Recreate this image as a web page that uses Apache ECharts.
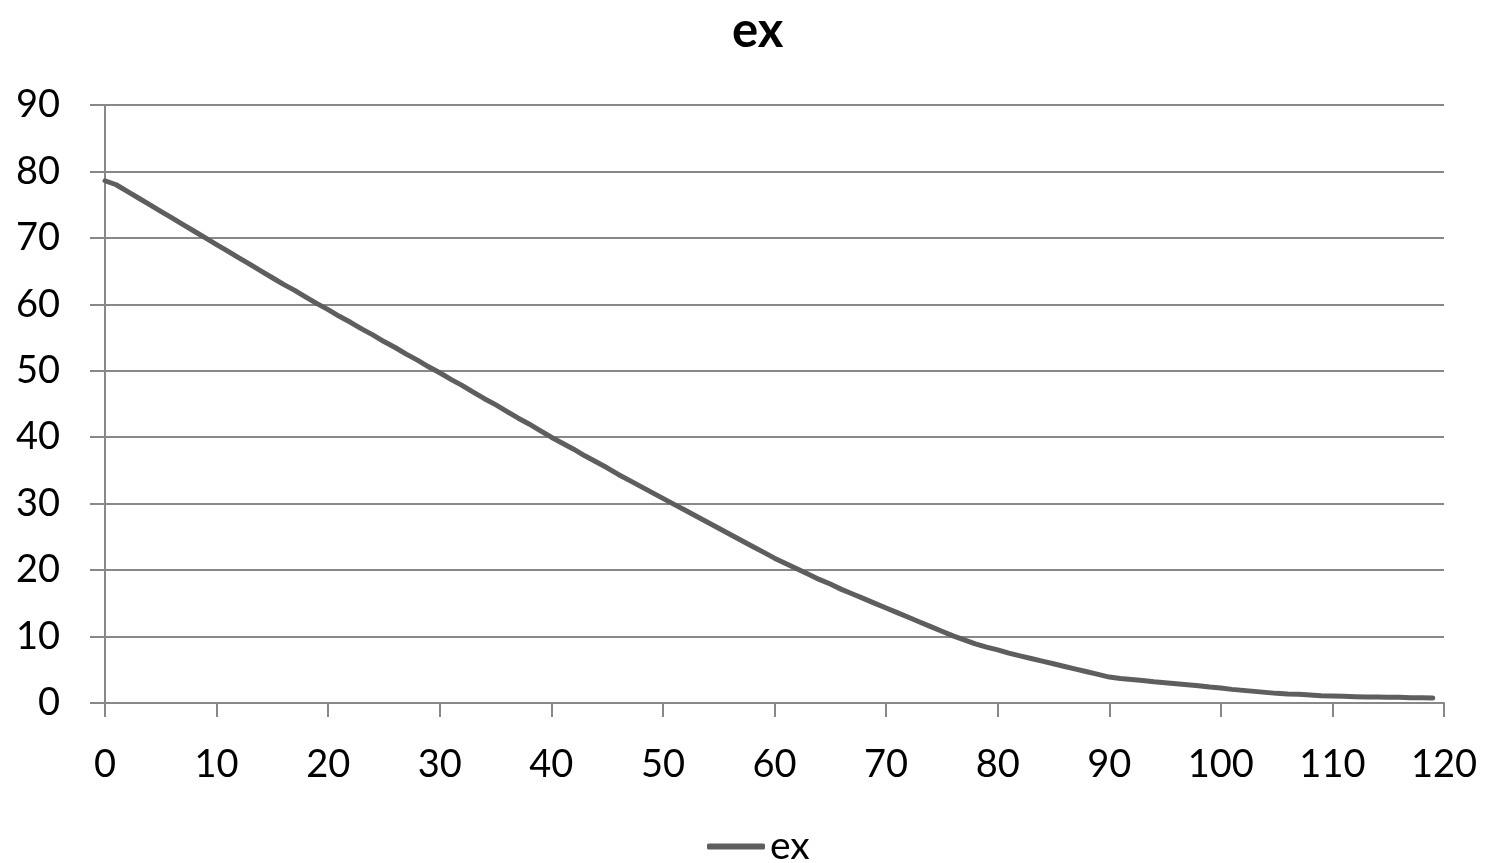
<!DOCTYPE html>
<html>
<head>
<meta charset="utf-8">
<title>ex</title>
<script src="https://cdn.jsdelivr.net/npm/echarts@6/dist/echarts.min.js"></script>
<style>
  html, body { margin: 0; padding: 0; background: #fff; }
  #chart { width: 1486px; height: 863px; }
</style>
</head>
<body>
<div id="chart"></div>
<script type="text/javascript">
// age (x) and remaining life expectancy ex (y)
var ages = [
    0, 1, 2, 3, 4, 5, 6, 7, 8, 9,
    10, 11, 12, 13, 14, 15, 16, 17, 18, 19,
    20, 21, 22, 23, 24, 25, 26, 27, 28, 29,
    30, 31, 32, 33, 34, 35, 36, 37, 38, 39,
    40, 41, 42, 43, 44, 45, 46, 47, 48, 49,
    50, 51, 52, 53, 54, 55, 56, 57, 58, 59,
    60, 61, 62, 63, 64, 65, 66, 67, 68, 69,
    70, 71, 72, 73, 74, 75, 76, 77, 78, 79,
    80, 81, 82, 83, 84, 85, 86, 87, 88, 89,
    90, 91, 92, 93, 94, 95, 96, 97, 98, 99,
    100, 101, 102, 103, 104, 105, 106, 107, 108, 109,
    110, 111, 112, 113, 114, 115, 116, 117, 118, 119
];
var exValues = [
    78.6, 78.0, 77.0, 76.0, 75.0, 74.0, 73.0, 72.0, 71.0, 70.0,
    69.0, 68.0, 67.0, 66.0, 65.0, 64.0, 63.0, 62.1, 61.1, 60.1,
    59.2, 58.2, 57.3, 56.3, 55.4, 54.4, 53.5, 52.5, 51.6, 50.6,
    49.7, 48.7, 47.8, 46.8, 45.8, 44.9, 43.9, 42.9, 42.0, 41.0,
    40.0, 39.1, 38.2, 37.2, 36.3, 35.4, 34.4, 33.5, 32.6, 31.7,
    30.8, 29.9, 29.0, 28.1, 27.2, 26.3, 25.4, 24.5, 23.6, 22.7,
    21.8, 21.0, 20.2, 19.4, 18.6, 17.9, 17.1, 16.4, 15.7, 15.0,
    14.3, 13.6, 12.9, 12.2, 11.5, 10.8, 10.1, 9.5, 8.9, 8.4,
    8.0, 7.5, 7.1, 6.7, 6.3, 5.9, 5.5, 5.1, 4.7, 4.3,
    3.9, 3.7, 3.55, 3.4, 3.2, 3.05, 2.9, 2.75, 2.6, 2.4,
    2.25, 2.05, 1.9, 1.75, 1.6, 1.45, 1.35, 1.3, 1.2, 1.1,
    1.05, 1.0, 0.95, 0.9, 0.9, 0.85, 0.85, 0.8, 0.8, 0.75
];
var xTicks = [0, 120, 10];   // min, max, step
var yTicks = [0, 90, 10];

var seriesData = ages.map(function (a, i) { return [a, exValues[i]]; });

var chart = echarts.init(document.getElementById('chart'));
var fontName = 'Lato, "Noto Sans", sans-serif';
var gridGray = '#888888';
var lineGray = '#5e5e5e';

var option = {
    backgroundColor: '#ffffff',
    animation: false,
    title: {
        text: 'ex',
        left: 727,
        top: 2,
        textStyle: { fontFamily: fontName, fontSize: 49, fontWeight: 'bold', color: '#000' }
    },
    legend: {
        bottom: -8,
        left: 702,
        itemWidth: 58,
        itemHeight: 6,
        itemGap: 10,
        textStyle: { fontFamily: fontName, fontSize: 39, color: '#000' },
        data: [{ name: 'ex', icon: 'roundRect', itemStyle: { color: lineGray } }]
    },
    grid: { left: 105, right: 42, top: 105, bottom: 160, containLabel: false },
    xAxis: {
        type: 'value',
        min: xTicks[0], max: xTicks[1], interval: xTicks[2],
        axisLine: { show: true, lineStyle: { color: gridGray, width: 2 } },
        axisTick: { show: true, length: 14, lineStyle: { color: gridGray, width: 2 } },
        axisLabel: { margin: 43, fontFamily: fontName, fontSize: 38, color: '#000' },
        splitLine: { show: false }
    },
    yAxis: {
        type: 'value',
        min: yTicks[0], max: yTicks[1], interval: yTicks[2],
        axisLine: { show: true, lineStyle: { color: gridGray, width: 2 } },
        axisTick: { show: true, length: 15, lineStyle: { color: gridGray, width: 2 } },
        axisLabel: { margin: 45, fontFamily: fontName, fontSize: 38, color: '#000' },
        splitLine: { show: true, lineStyle: { color: gridGray, width: 2 } }
    },
    series: [{
        name: 'ex',
        type: 'line',
        data: seriesData,
        symbol: 'none',
        smooth: false,
        lineStyle: { color: lineGray, width: 5, cap: 'round', join: 'round' },
        itemStyle: { color: lineGray }
    }]
};
chart.setOption(option);
</script>
</body>
</html>
